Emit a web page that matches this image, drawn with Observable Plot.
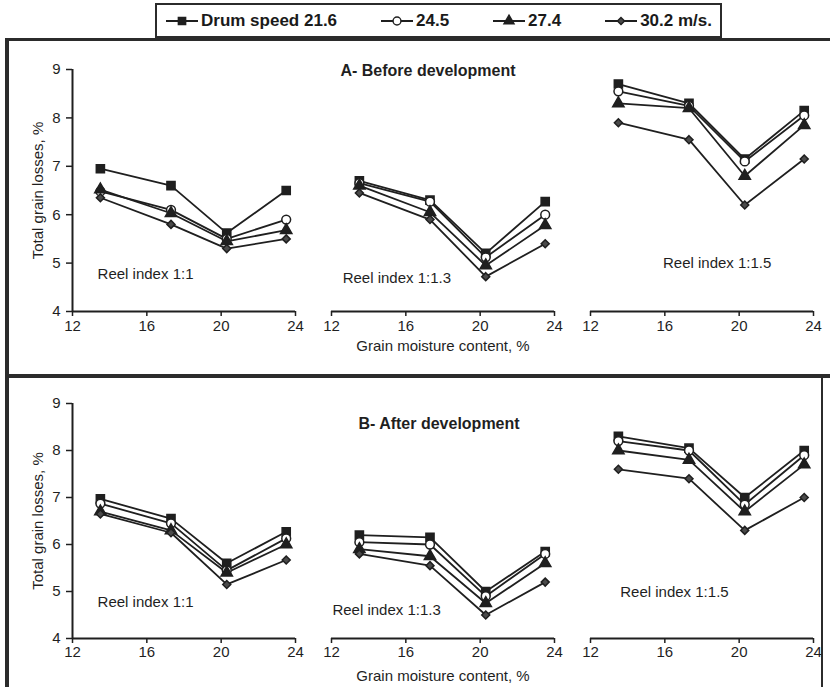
<!DOCTYPE html>
<html>
<head>
<meta charset="utf-8">
<script src="https://cdn.jsdelivr.net/npm/d3@7"></script>
<script src="https://cdn.jsdelivr.net/npm/@observablehq/plot@0.6"></script>
<style>
  body { margin: 0; background: #fff; }
  #fig { position: relative; width: 830px; height: 687px; overflow: hidden; background: #fff;
         font-family: "Liberation Sans", Arial, Helvetica, sans-serif; color: #1a1a1a; }
  .ln { position: absolute; background: #2b2b2b; }
  #legend { position: absolute; left: 155px; top: 3px; width: 547px; height: 31px; padding: 0 8px;
            border: 2px solid #2b2b2b; background: #fff; display: flex; align-items: center;
            justify-content: space-between; font-weight: bold; font-size: 17px; color: #1a1a1a; }
  .item { display: flex; align-items: center; white-space: nowrap; }
  .item svg { margin-right: 2px; }
  .panel { position: absolute; left: 0; }
</style>
</head>
<body>
<div id="fig">
  <div class="ln" style="left:5px; top:38px; width:825px; height:3px;"></div>
  <div class="ln" style="left:5px; top:38px; width:4px; height:649px;"></div>
  <div class="ln" style="left:5px; top:374px; width:825px; height:4px;"></div>
  <div class="ln" style="left:821px; top:376px; width:2px; height:311px;"></div>
  <div id="legend"></div>
  <div class="panel" id="panelA" style="top:41px;"></div>
  <div class="panel" id="panelB" style="top:378px;"></div>
</div>
<script>
// ---- data ----
const moisture = [13.5, 17.3, 20.3, 23.5];           // grain moisture content, %
const drumSpeeds = ["21.6", "24.5", "27.4", "30.2"];  // m/s
const reels = ["1:1", "1:1.3", "1:1.5"];
const yTicks = [4, 5, 6, 7, 8, 9];
const xTicks = [12, 16, 20, 24];

// A - Before development (rows: drum speed 21.6, 24.5, 27.4, 30.2)
const before_1_1   = [[6.95, 6.60, 5.62, 6.50], [6.48, 6.10, 5.50, 5.90], [6.52, 6.03, 5.45, 5.68], [6.35, 5.80, 5.30, 5.50]];
const before_1_1_3 = [[6.70, 6.30, 5.20, 6.27], [6.65, 6.27, 5.12, 6.00], [6.60, 6.05, 4.95, 5.78], [6.45, 5.90, 4.72, 5.40]];
const before_1_1_5 = [[8.70, 8.30, 7.15, 8.15], [8.55, 8.25, 7.10, 8.05], [8.30, 8.20, 6.80, 7.85], [7.90, 7.55, 6.20, 7.15]];
// B - After development
const after_1_1    = [[6.97, 6.55, 5.60, 6.27], [6.87, 6.45, 5.45, 6.13], [6.70, 6.30, 5.40, 6.00], [6.65, 6.25, 5.15, 5.67]];
const after_1_1_3  = [[6.20, 6.15, 5.00, 5.85], [6.05, 6.00, 4.90, 5.80], [5.90, 5.75, 4.75, 5.60], [5.80, 5.55, 4.50, 5.20]];
const after_1_1_5  = [[8.30, 8.05, 7.00, 8.00], [8.20, 8.00, 6.85, 7.90], [8.00, 7.80, 6.70, 7.70], [7.60, 7.40, 6.30, 7.00]];

const titleA = "A- Before development";
const titleB = "B- After development";
const xLabel = "Grain moisture content, %";
const yLabel = "Total grain losses, %";
const reelLabels = ["Reel index 1:1", "Reel index 1:1.3", "Reel index 1:1.5"];

// ---- styling ----
const ink = "#1f1f1f";
const symbols = ["square", "circle", "triangle", "diamond2"];
const d3Symbols = [d3.symbolSquare, d3.symbolCircle, d3.symbolTriangle, d3.symbolDiamond2];
const fills = [ink, "#fff", ink, "#4a4a4a"];
const radii = [4.6, 4.4, 4.2, 3.6];
const FONT = '"Liberation Sans", Arial, Helvetica, sans-serif';

function rowsOf(sets) {
  const rows = [];
  sets.forEach((set, ri) => set.forEach((vals, si) => vals.forEach((v, k) =>
    rows.push({reel: reels[ri], speed: drumSpeeds[si], m: moisture[k], v}))));
  return rows;
}

function panel(sets, cfg) {
  const rows = rowsOf(sets);
  const labels = reels.map((r, i) => ({reel: r, text: reelLabels[i], x: cfg.labelPos[i][0], y: cfg.labelPos[i][1]}));
  return Plot.plot({
    width: 830, height: cfg.height,
    marginLeft: 72, marginRight: 17, marginTop: cfg.mt, marginBottom: cfg.mb,
    style: {fontFamily: FONT, fontSize: "15px", color: ink, background: "transparent", overflow: "visible"},
    x: {domain: [12, 24]},
    y: {domain: [4, 9]},
    fx: {domain: reels, paddingInner: 0.14, paddingOuter: 0, axis: null},
    marks: [
      Plot.ruleY([4], {stroke: ink, strokeWidth: 2}),
      Plot.ruleX([{reel: "1:1", x: 12}], {fx: "reel", x: "x", y1: () => 4, y2: () => 9, stroke: ink, strokeWidth: 2}),
      Plot.axisX({ticks: xTicks, tickSize: 5, tickPadding: cfg.xPad, label: null, tickFormat: d => String(d), stroke: ink, strokeWidth: 1.5}),
      Plot.axisY({ticks: yTicks, tickSize: 6, tickPadding: 6, tickFormat: d => String(d), stroke: ink, strokeWidth: 1.5,
                  label: yLabel, labelAnchor: "center", labelOffset: 40, labelArrow: "none"}),
      Plot.line(rows, {x: "m", y: "v", z: "speed", fx: "reel", stroke: ink, strokeWidth: 1.8}),
      ...drumSpeeds.map((s, i) => Plot.dot(rows.filter(d => d.speed === s), {
        x: "m", y: "v", fx: "reel", symbol: symbols[i], r: radii[i],
        fill: fills[i], stroke: ink, strokeWidth: 1.5})),
      Plot.text(labels, {x: "x", y: "y", fx: "reel", text: "text", textAnchor: "start", fontSize: 15, fill: ink}),
      Plot.text([{reel: "1:1.3"}], {fx: "reel", frameAnchor: "top", lineAnchor: "middle", text: () => cfg.title,
                 fontWeight: "bold", fontSize: 16, dx: cfg.titleDx, dy: cfg.titleDy, fill: ink}),
      Plot.text([{reel: "1:1.3"}], {fx: "reel", frameAnchor: "bottom", lineAnchor: "middle", text: () => xLabel,
                 fontSize: 15, dy: cfg.xLabelDy, fill: ink})
    ]
  });
}

document.getElementById("panelA").append(panel([before_1_1, before_1_1_3, before_1_1_5], {
  height: 333, mt: 28, mb: 63, xPad: 4, title: titleA, titleDx: -15, titleDy: 1, xLabelDy: 35,
  labelPos: [[13.35, 4.78], [12.6, 4.68], [15.9, 4.99]]
}));
document.getElementById("panelB").append(panel([after_1_1, after_1_1_3, after_1_1_5], {
  height: 309, mt: 25, mb: 49, xPad: 3, title: titleB, titleDx: -4, titleDy: 20, xLabelDy: 38,
  labelPos: [[13.35, 4.77], [12.05, 4.6], [13.6, 4.98]]
}));

// ---- legend ----
const legend = document.getElementById("legend");
drumSpeeds.forEach((s, i) => {
  const item = document.createElement("div");
  item.className = "item";
  const sym = d3.symbol(d3Symbols[i], Math.PI * radii[i] * radii[i] * 0.8)();
  item.innerHTML = `<svg width="34" height="16" viewBox="-17 -8 34 16">
      <line x1="-16" x2="16" y1="0" y2="0" stroke="${ink}" stroke-width="2"/>
      <path d="${sym}" fill="${fills[i]}" stroke="${ink}" stroke-width="1.4"/></svg>
      <span>${i === 0 ? "Drum speed " + s : i === drumSpeeds.length - 1 ? s + " m/s." : s}</span>`;
  legend.append(item);
});
</script>
</body>
</html>
